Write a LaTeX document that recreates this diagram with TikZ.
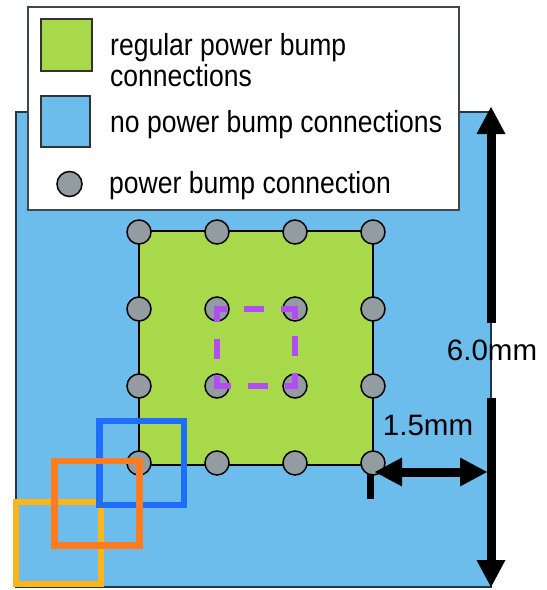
\documentclass[tikz,border=0pt]{standalone}
\usepackage{fontspec}
\setmainfont{Liberation Sans}
\usepackage{graphicx}
\usetikzlibrary{arrows.meta}
\definecolor{bluefill}{HTML}{6CBDEB}
\definecolor{greenfill}{HTML}{A8D94A}
\definecolor{graycirc}{HTML}{939CA1}
\definecolor{boxblue}{HTML}{1F6DFB}
\definecolor{boxorange}{HTML}{FF7B1F}
\definecolor{boxyellow}{HTML}{FFB516}
\definecolor{dashpurple}{HTML}{B34CF2}
\definecolor{legborder}{HTML}{3C474E}
\definecolor{rectborder}{HTML}{22364A}
\begin{document}
\begin{tikzpicture}[x=1pt,y=-1pt,
  legtext/.style={anchor=base west,inner sep=0pt,font=\fontsize{30.5}{31}\selectfont},
  dimtext/.style={anchor=base,inner sep=0pt,font=\fontsize{29.5}{30}\selectfont},
  bump/.style={circle,draw=black,line width=1.5pt,fill=graycirc,minimum size=24pt,inner sep=0pt},
  dimarrow/.style={line width=9pt,-{Triangle[width=29pt,length=27pt,line width=0pt]}},
  dimdouble/.style={line width=9pt,{Triangle[width=29pt,length=27pt,line width=0pt]}-{Triangle[width=29pt,length=27pt,line width=0pt]}},
  win/.style={line width=6.5pt},
  purpledash/.style={dashpurple,line width=5.5pt,line cap=rect,dash pattern=on 15pt off 22pt,dash phase=7.5pt}]
\useasboundingbox (0,0) rectangle (547,590);
% chip area
\draw[draw=rectborder,line width=1.3pt,fill=bluefill] (16,112) rectangle (491,587);
% legend
\draw[draw=legborder,line width=1.5pt,fill=white] (28,7) rectangle (459,210);
\draw[draw=black!80,line width=1.3pt,fill=greenfill] (41,19) rectangle (92,71);
\draw[draw=black!80,line width=1.3pt,fill=bluefill] (41,96) rectangle (90,147);
\node[bump,minimum size=25pt] (legbump) at (69.5,184) {};
\node[legtext] (t1) at (110,55) {\scalebox{0.87}[1]{regular power bump}};
\node[legtext] (t2) at (110,86) {\scalebox{0.87}[1]{connections}};
\node[legtext] (t3) at (110,132) {\scalebox{0.87}[1]{no power bump connections}};
\node[legtext] (t4) at (109,193) {\scalebox{0.87}[1]{power bump connection}};
% regular power bump region
\draw[draw=black,line width=1.3pt,fill=greenfill] (139,231) rectangle (373,465);
% tick
\coordinate (tickTop) at (370,465);
\coordinate (tickBot) at (370,499);
\draw[line width=7pt] (tickTop) -- (tickBot);
% bumps
\foreach \i in {0,...,3}{
  \foreach \j in {0,...,3}{
    \node[bump] (b\i\j) at ({139+78*\i},{232+77*\j}) {};
  }
}
% dashed window (each side restarts the dash pattern)
\draw[purpledash]
  (b11.center) -- (b21.center)
  (b21.center) -- (b22.center)
  (b22.center) -- (b12.center)
  (b12.center) -- (b11.center);
% sliding windows
\draw[win,boxyellow] (16,502) rectangle (101,584);
\draw[win,boxblue] (99.5,421) rectangle (184,505);
\draw[win,boxorange] (54.5,461) rectangle (139.5,545.5);
% dimension arrows
\coordinate (vTopStart) at (491,323);
\coordinate (vTopEnd) at (491,107);
\coordinate (vBotStart) at (491,398);
\coordinate (vBotEnd) at (491,587);
\coordinate (hL) at (375,472);
\coordinate (hR) at (487,472);
\draw[dimarrow] (vTopStart) -- (vTopEnd);
\draw[dimarrow] (vBotStart) -- (vBotEnd);
\draw[dimdouble] (hL) -- (hR);
\node[dimtext] (l6) at (492,360) {6.0mm};
\node[dimtext] (l15) at (428,435) {1.5mm};
\end{tikzpicture}
\end{document}
